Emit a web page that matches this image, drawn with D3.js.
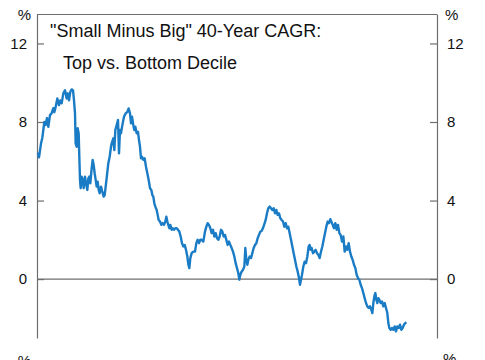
<!DOCTYPE html>
<html><head><meta charset="utf-8">
<script src="https://cdn.jsdelivr.net/npm/d3@7"></script>
<style>
html,body{margin:0;padding:0;background:#fff;}
svg{display:block;}
text{font-family:"Liberation Sans",Arial,sans-serif;fill:#111;}
</style></head>
<body><svg id="c" width="485" height="360"></svg>
<script>
// Estimated dates (decimal years) of 40-year CAGR observations
const years = [1966.15,1966.30,1966.60,1966.80,1967.10,1967.30,1967.50,1967.70,1967.95,1968.20,1968.45,1968.60,1968.80,1969.05,1969.30,1969.50,1969.70,1969.95,1970.20,1970.45,1970.60,1970.80,1971.00,1971.20,1971.40,1971.55,1971.70,1971.80,1971.95,1972.10,1972.25,1972.35,1972.45,1972.55,1972.70,1972.85,1973.00,1973.20,1973.35,1973.55,1973.70,1973.85,1974.00,1974.20,1974.35,1974.50,1974.65,1974.80,1974.95,1975.10,1975.25,1975.40,1975.60,1975.80,1976.00,1976.15,1976.30,1976.50,1976.70,1976.90,1977.10,1977.20,1977.45,1977.60,1977.75,1977.95,1978.15,1978.30,1978.45,1978.60,1978.80,1979.05,1979.30,1979.55,1979.75,1979.95,1980.10,1980.25,1980.45,1980.60,1980.75,1980.95,1981.15,1981.30,1981.45,1981.60,1981.75,1981.95,1982.15,1982.35,1982.55,1982.75,1982.95,1983.15,1983.30,1983.45,1983.60,1983.75,1983.95,1984.10,1984.25,1984.45,1984.65,1984.85,1985.05,1985.25,1985.40,1985.55,1985.70,1985.85,1986.00,1986.20,1986.35,1986.55,1986.75,1986.95,1987.15,1987.35,1987.55,1987.75,1987.95,1988.15,1988.35,1988.55,1988.70,1988.85,1989.00,1989.20,1989.45,1989.70,1989.90,1990.10,1990.30,1990.50,1990.70,1990.95,1991.20,1991.40,1991.60,1991.80,1992.00,1992.20,1992.40,1992.60,1992.80,1993.00,1993.20,1993.40,1993.60,1993.80,1994.00,1994.20,1994.40,1994.60,1994.80,1995.00,1995.20,1995.40,1995.60,1995.80,1996.00,1996.20,1996.35,1996.50,1996.70,1996.90,1997.10,1997.25,1997.40,1997.55,1997.70,1997.90,1998.10,1998.30,1998.50,1998.70,1998.90,1999.10,1999.30,1999.50,1999.70,1999.90,2000.10,2000.30,2000.50,2000.70,2000.90,2001.10,2001.30,2001.50,2001.70,2001.90,2002.10,2002.30,2002.50,2002.70,2002.90,2003.10,2003.30,2003.50,2003.70,2003.90,2004.10,2004.30,2004.50,2004.70,2004.90,2005.10,2005.30,2005.45,2005.60,2005.75,2005.95,2006.15,2006.35,2006.55,2006.75,2006.90,2007.05,2007.20,2007.40,2007.60,2007.80,2008.00,2008.20,2008.40,2008.60,2008.80,2009.00,2009.20,2009.40,2009.60,2009.80,2010.00,2010.15,2010.35,2010.55,2010.75,2010.95,2011.15,2011.35,2011.55,2011.75,2011.95,2012.15,2012.35,2012.55,2012.75,2012.95,2013.15,2013.35,2013.55,2013.75,2013.95,2014.15,2014.35,2014.55,2014.75,2014.95,2015.15,2015.35,2015.55,2015.75,2015.95,2016.15,2016.30,2016.45,2016.60,2016.75,2016.90,2017.05,2017.20,2017.35,2017.55,2017.75,2017.95,2018.15,2018.35,2018.55,2018.70,2018.85,2019.05,2019.25,2019.45,2019.65,2019.85,2020.05,2020.25,2020.45,2020.65,2020.85,2021.05,2021.25,2021.40];
// 40-year CAGR, small minus big (top vs bottom decile), %
const cagr = [6.45,6.2,6.9,7.2,8.0,7.85,8.2,7.76,8.35,8.45,8.7,8.5,8.77,9.2,8.86,9.1,8.95,9.46,9.62,9.2,9.46,9.1,9.54,9.66,9.62,9.1,8.45,6.9,6.74,7.68,7.42,6.23,5.05,4.63,5.22,5.05,4.63,5.22,4.88,4.54,5.13,5.22,4.88,5.64,6.07,5.81,5.39,5.05,4.71,4.96,4.54,4.37,4.71,4.45,4.2,4.28,4.71,5.3,5.9,6.23,6.74,6.91,7.17,6.57,7.59,7.84,8.1,6.4,7.59,7.42,7.84,8.27,8.44,8.52,8.69,8.44,7.93,8.27,7.84,7.59,7.76,7.42,7.5,7.08,6.74,6.15,6.23,6.07,6.15,5.72,5.39,5.05,4.63,4.54,4.28,4.2,3.86,3.69,3.52,3.27,3.01,2.93,2.76,2.85,2.76,2.93,3.18,2.93,2.76,2.59,2.76,2.51,2.59,2.51,2.59,2.59,2.51,2.42,2.17,1.83,1.66,1.74,1.49,1.15,0.75,0.56,1.07,1.32,1.4,1.4,1.83,2.0,1.83,2.0,2.0,1.91,2.42,2.67,2.85,2.76,2.59,2.34,2.51,2.17,2.34,2.08,2.0,2.17,2.51,2.42,2.17,2.25,2.0,1.74,1.91,1.74,1.58,1.4,1.15,0.81,0.56,0.3,-0.03,0.22,0.39,0.47,0.64,1.58,0.98,0.73,0.98,1.15,1.07,1.32,1.58,1.74,1.83,2.08,2.25,2.42,2.45,2.6,2.8,3.01,3.35,3.61,3.69,3.61,3.52,3.61,3.35,3.52,3.27,3.35,3.1,3.01,2.93,2.67,2.85,2.59,2.67,2.34,2.0,1.66,1.32,0.98,0.64,0.39,0.05,-0.29,-0.03,0.22,0.64,0.89,0.81,1.15,1.66,1.74,1.49,1.58,1.32,1.4,1.49,1.32,1.24,1.07,1.4,1.66,2.0,2.34,2.67,2.93,2.85,3.05,2.93,2.76,2.59,2.85,2.51,2.76,2.34,2.25,1.91,2.17,1.4,1.66,1.49,1.83,1.4,1.15,0.98,0.73,0.56,0.22,0.05,-0.03,-0.29,-0.46,-0.71,-0.97,-1.22,-1.39,-1.47,-1.39,-1.56,-1.73,-1.22,-0.88,-0.71,-1.05,-1.22,-0.97,-1.05,-1.22,-1.14,-1.39,-1.22,-1.47,-1.73,-2.24,-2.49,-2.58,-2.49,-2.58,-2.41,-2.66,-2.41,-2.49,-2.32,-2.58,-2.49,-2.32,-2.24,-2.2];
const yTicks = [0, 4, 8, 12];
const titleLines = ["\"Small Minus Big\" 40-Year CAGR:", "Top vs. Bottom Decile"];
const unitLabel = "%";

const svg = d3.select("#c");
const L = 37, R = 437, T = 14, B = 338;
const x = d3.scaleLinear().domain([1966, 2026]).range([L, R]);
const y = d3.scaleLinear().domain([-3, 13.5]).range([B, T]);
const axisColor = "#6e6e6e";

// top frame line
svg.append("line").attr("x1", L).attr("x2", R).attr("y1", T + 0.5).attr("y2", T + 0.5)
  .attr("stroke", axisColor).attr("stroke-width", 1.2);

const fmt = d => d3.format("d")(d);
const gl = svg.append("g").attr("transform", `translate(${L},0)`)
  .call(d3.axisLeft(y).tickValues(yTicks).tickSizeInner(-7).tickSizeOuter(0).tickPadding(10).tickFormat(fmt));
const gr = svg.append("g").attr("transform", `translate(${R},0)`)
  .call(d3.axisRight(y).tickValues(yTicks).tickSizeInner(-7).tickSizeOuter(0).tickPadding(10).tickFormat(fmt));
[gl, gr].forEach(g => {
  g.select(".domain").attr("stroke", axisColor).attr("stroke-width", 1.2);
  g.selectAll(".tick line").attr("stroke", axisColor).attr("stroke-width", 1.2);
  g.selectAll(".tick text").attr("font-size", 15).attr("fill", "#111")
    .attr("font-family", "\"Liberation Sans\",Arial,sans-serif");
});

// zero line
svg.append("line").attr("x1", L).attr("x2", R).attr("y1", y(0)).attr("y2", y(0))
  .attr("stroke", axisColor).attr("stroke-width", 1.2);

// unit labels
svg.append("text").attr("x", 31).attr("y", 20).attr("text-anchor", "end").attr("font-size", 15).text(unitLabel);
svg.append("text").attr("x", 445).attr("y", 20).attr("text-anchor", "start").attr("font-size", 15).text(unitLabel);
svg.append("text").attr("x", 31).attr("y", 366).attr("text-anchor", "end").attr("font-size", 15).text(unitLabel);
svg.append("text").attr("x", 443).attr("y", 364).attr("text-anchor", "start").attr("font-size", 15).text(unitLabel);

// title
svg.append("text").attr("x", 50).attr("y", 37).attr("font-size", 18).text(titleLines[0]);
svg.append("text").attr("x", 63).attr("y", 69).attr("font-size", 18).text(titleLines[1]);

// line
const data = years.map((t, i) => ({t, v: cagr[i]}));
svg.append("path").datum(data)
  .attr("fill", "none").attr("stroke", "#1b7cc6").attr("stroke-width", 2.4)
  .attr("stroke-linejoin", "round")
  .attr("d", d3.line().x(d => x(d.t)).y(d => y(d.v)));
</script></body></html>
